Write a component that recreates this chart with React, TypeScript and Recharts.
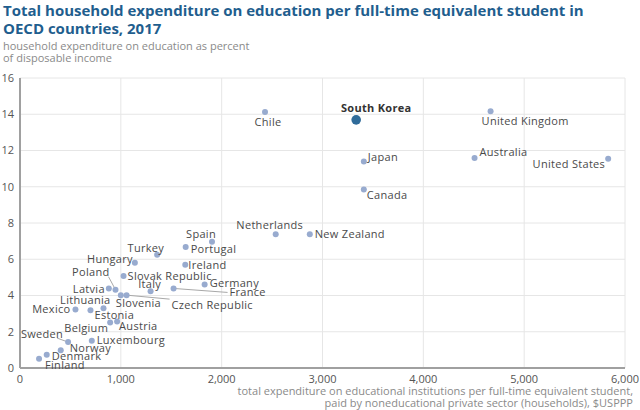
import React from "react"
import { ScatterChart, Scatter, XAxis, YAxis, CartesianGrid } from "recharts"

const countries = [
  "Finland", "Denmark", "Norway", "Sweden", "Luxembourg", "Belgium", "Austria",
  "Mexico", "Estonia", "Lithuania", "Latvia", "Poland", "Slovenia", "Czech Republic",
  "Slovak Republic", "Hungary", "Turkey", "Italy", "Spain", "Portugal", "Ireland",
  "Germany", "France", "Netherlands", "New Zealand", "Chile", "South Korea",
  "United Kingdom", "Japan", "Canada", "Australia", "United States",
]
// $USPPP per full-time equivalent student
const spending = [
  189, 265, 404, 477, 712, 894, 963,
  550, 699, 828, 881, 947, 1000, 1057,
  1027, 1139, 1360, 1295, 1904, 1643, 1639,
  1831, 1523, 2536, 2874, 2430, 3334,
  4667, 3410, 3410, 4508, 5833,
]
// percent of disposable income
const incomeShare = [
  0.51, 0.73, 0.98, 1.43, 1.5, 2.51, 2.57,
  3.23, 3.18, 3.3, 4.38, 4.32, 4.01, 4.02,
  5.07, 5.81, 6.25, 4.24, 6.97, 6.67, 5.7,
  4.61, 4.39, 7.38, 7.38, 14.12, 13.69,
  14.17, 11.39, 9.85, 11.59, 11.54,
]
const highlight = "South Korea"
const xTicks = [0, 1000, 2000, 3000, 4000, 5000, 6000]
const yTicks = [0, 2, 4, 6, 8, 10, 12, 14, 16]

const points = countries.map((name, i) => ({ name, x: spending[i], y: incomeShare[i] }))

// label placement relative to the dot: anchor, dx, dy, optional leader line end
type Place = { a: "start" | "middle" | "end"; dx: number; dy: number; lx?: number; ly?: number }
const place: Record<string, Place> = {
  Finland: { a: "start", dx: 6, dy: 6 },
  Denmark: { a: "start", dx: 5, dy: 1 },
  Norway: { a: "start", dx: 9, dy: -2 },
  Sweden: { a: "end", dx: -5, dy: -8, lx: -11, ly: -4 },
  Luxembourg: { a: "start", dx: 5, dy: -1 },
  Belgium: { a: "end", dx: -2, dy: 5 },
  Austria: { a: "start", dx: 2, dy: 5 },
  Mexico: { a: "end", dx: -5, dy: 0 },
  Estonia: { a: "start", dx: 4, dy: 5 },
  Lithuania: { a: "end", dx: 7, dy: -8 },
  Latvia: { a: "end", dx: -4, dy: 0 },
  Poland: { a: "end", dx: -6, dy: -18, lx: -7, ly: -13 },
  Slovenia: { a: "start", dx: -5, dy: 8 },
  "Czech Republic": { a: "start", dx: 45, dy: 10, lx: 43, ly: 4 },
  "Slovak Republic": { a: "start", dx: 4, dy: 0 },
  Hungary: { a: "end", dx: -2, dy: -4 },
  Turkey: { a: "end", dx: 7, dy: -7 },
  Italy: { a: "middle", dx: -1, dy: -7 },
  Spain: { a: "end", dx: 4, dy: -8 },
  Portugal: { a: "start", dx: 5, dy: 2 },
  Ireland: { a: "start", dx: 3, dy: 0 },
  Germany: { a: "start", dx: 5, dy: -1 },
  France: { a: "start", dx: 56, dy: 4, lx: 54, ly: 4 },
  Netherlands: { a: "middle", dx: -6, dy: -9 },
  "New Zealand": { a: "start", dx: 5, dy: 0 },
  Chile: { a: "middle", dx: 3, dy: 10 },
  "South Korea": { a: "middle", dx: 20, dy: -12 },
  "United Kingdom": { a: "start", dx: -9, dy: 10 },
  Japan: { a: "start", dx: 4, dy: -5 },
  Canada: { a: "start", dx: 3, dy: 6 },
  Australia: { a: "start", dx: 5, dy: -6 },
  "United States": { a: "end", dx: -3, dy: 5 },
}

const font = "'Open Sans', sans-serif"

const Dot = (props: any) => {
  const { cx, cy, payload } = props
  const p = place[payload.name] || { a: "start", dx: 5, dy: 0 }
  const hot = payload.name === highlight
  return (
    <g>
      {p.lx !== undefined && (
        <line x1={cx} y1={cy} x2={cx + p.lx} y2={cy + (p.ly || 0)} stroke="#a8a8a8" strokeWidth={1} />
      )}
      <circle cx={cx} cy={cy} r={hot ? 4.8 : 3} fill={hot ? "#2f6b9a" : "#98abcf"} />
      <text
        x={cx + p.dx}
        y={cy + p.dy + 4}
        textAnchor={p.a}
        fontFamily={font}
        fontSize={11}
        fontWeight={hot ? 700 : 400}
        fill={hot ? "#333" : "#4a4a4a"}
        letterSpacing={0.3}
      >
        {payload.name}
      </text>
    </g>
  )
}

export default function App() {
  return (
    <div style={{ position: "absolute", left: 0, top: 0, width: 640, height: 410, background: "#fff", fontFamily: font }}>
      <div style={{ position: "absolute", left: 3, top: 1, fontSize: 15, fontWeight: 700, color: "#1f5e8e", lineHeight: "18px" }}>
        Total household expenditure on education per full-time equivalent student in
        <br />
        OECD countries, 2017
      </div>
      <div style={{ position: "absolute", left: 3, top: 40, fontSize: 11, color: "#8a8a8a", lineHeight: "12px" }}>
        household expenditure on education as percent
        <br />
        of disposable income
      </div>
      <ScatterChart width={640} height={410} margin={{ top: 78, right: 15, bottom: 0, left: 0 }}>
        <CartesianGrid stroke="#e6e6e6" strokeWidth={1} />
        <XAxis
          type="number"
          dataKey="x"
          domain={[0, 6000]}
          ticks={xTicks}
          height={42}
          tickFormatter={(v) => v.toLocaleString("en-US")}
          tick={{ fontSize: 11, fill: "#555", fontFamily: font }}
          tickSize={0}
          tickMargin={7}
          axisLine={{ stroke: "#a0a0a0", strokeWidth: 2 }}
        />
        <YAxis
          type="number"
          dataKey="y"
          domain={[0, 16]}
          ticks={yTicks}
          width={20}
          tick={{ fontSize: 11, fill: "#555", fontFamily: font }}
          tickSize={0}
          tickMargin={6}
          axisLine={{ stroke: "#a0a0a0", strokeWidth: 2 }}
        />
        <Scatter data={points} shape={Dot} isAnimationActive={false} />
      </ScatterChart>
      <div style={{ position: "absolute", right: 7, top: 385, fontSize: 11, color: "#8a8a8a", lineHeight: "12px", textAlign: "right" }}>
        total expenditure on educational institutions per full-time equivalent student,
        <br />
        paid by noneducational private sector (households), $USPPP
      </div>
    </div>
  )
}
